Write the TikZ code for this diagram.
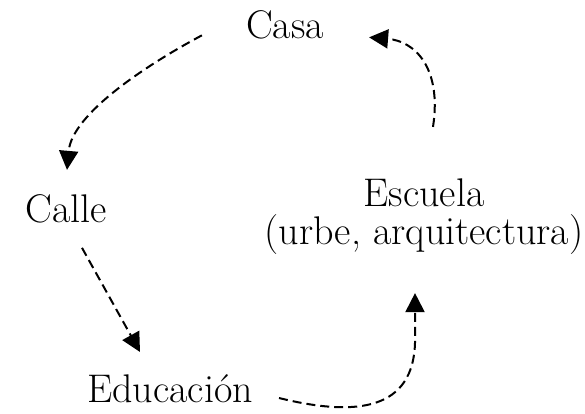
\documentclass[tikz,border=0pt]{standalone}
\usepackage{tikz}
\usetikzlibrary{arrows.meta}
\tikzset{>={Triangle[length=19pt,width=19pt]}}

\begin{document}
\begin{tikzpicture}[x=1pt,y=1pt,
    rotulo/.style={inner sep=0pt, font=\fontsize{40}{38}\selectfont},
    flecha/.style={->, line width=2pt, dash pattern=on 9pt off 5pt}]
    \useasboundingbox (0,0) rectangle (585,413);

    %Casa
    \draw (285, 374) node[rotulo, anchor=base] (casa) {Casa};

    %Calle
    \draw (66, 191) node[rotulo, anchor=base] (calle) {Calle};

    %Escuela
    \draw (424, 196) node[rotulo, align=center] (escuela) {Escuela\\(urbe, arquitectura)};

    %Educacion
    \draw (170, 11) node[rotulo, anchor=base] (educacion) {Educación};

    % casa to calle
    \draw[flecha] ([xshift=-44pt,yshift=-10pt]casa.west)
        .. controls (150, 350) and (72, 300) .. ([xshift=1pt,yshift=24pt]calle.north);

    % calle to educacion
    \draw[flecha] ([xshift=16pt,yshift=-25pt]calle.south) -- ([xshift=-30pt,yshift=22pt]educacion.north);

    % educacion to escuela
    \draw[flecha] ([xshift=26pt,yshift=4pt]educacion.base east)
        .. controls (360, -5) and (413, 5) .. (415, 70) -- ([xshift=-9pt,yshift=-38pt]escuela.south);

    % escuela to casa
    \draw[flecha] ([xshift=9pt,yshift=52pt]escuela.north)
        .. controls (442, 345) and (415, 372) .. ([xshift=45pt,yshift=-12pt]casa.east);
\end{tikzpicture}
\end{document}
